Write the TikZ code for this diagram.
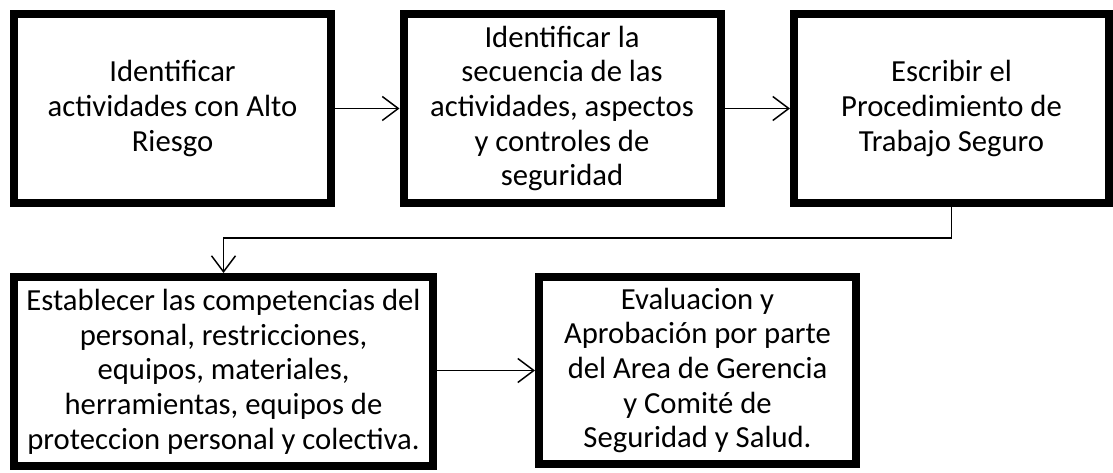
\documentclass[tikz,border=0pt]{standalone}
\usepackage{fontspec}
\setmainfont{Carlito}
\usetikzlibrary{arrows.meta,shadows}

\begin{document}
\begin{tikzpicture}[
  x=0.75pt, y=0.75pt,
  stepbox/.style={draw, line width=6pt, fill=white, align=center,
                  minimum width=237.75pt, minimum height=141.75pt, inner sep=0pt,
                  font=\fontsize{23pt}{26pt}\selectfont,
                  drop shadow={shadow xshift=3pt, shadow yshift=-3pt,
                               opacity=0.3, fill=black}},
  arr/.style={-{Straight Barb[length=12pt,width=18pt]}, line width=1.1pt},
]
\useasboundingbox (0,0) rectangle (1113,-473);

% ---- First row ----
\node[stepbox] (riesgo) at (172.5,-108.5)
  {Identificar\\actividades con Alto\\Riesgo};
\node[stepbox] (secuencia) at (562,-108.5)
  {Identificar la\\secuencia de las\\actividades, aspectos\\y controles de\\seguridad};
\node[stepbox, minimum width=236.25pt] (procedimiento) at (951.5,-108.5)
  {Escribir el\\Procedimiento de\\Trabajo Seguro};

\draw[arr] (riesgo) -- (secuencia);
\draw[arr] (secuencia) -- (procedimiento);

% ---- Second row ----
\node[stepbox, minimum width=314.25pt] (competencias) at (223.5,-371.5)
  {Establecer las competencias del\\personal, restricciones,\\equipos, materiales,\\herramientas, equipos de\\proteccion personal y colectiva.};
\node[stepbox, minimum height=140.25pt] (aprobacion) at (697.5,-370.5)
  {Evaluacion y\\Aprobación por parte\\del Area de Gerencia\\y Comité de\\Seguridad y Salud.};

\draw[arr] (procedimiento.south) -- ++(0,-31) -| (competencias.north);
\draw[arr] (competencias.east |- aprobacion) -- (aprobacion);

\end{tikzpicture}
\end{document}
